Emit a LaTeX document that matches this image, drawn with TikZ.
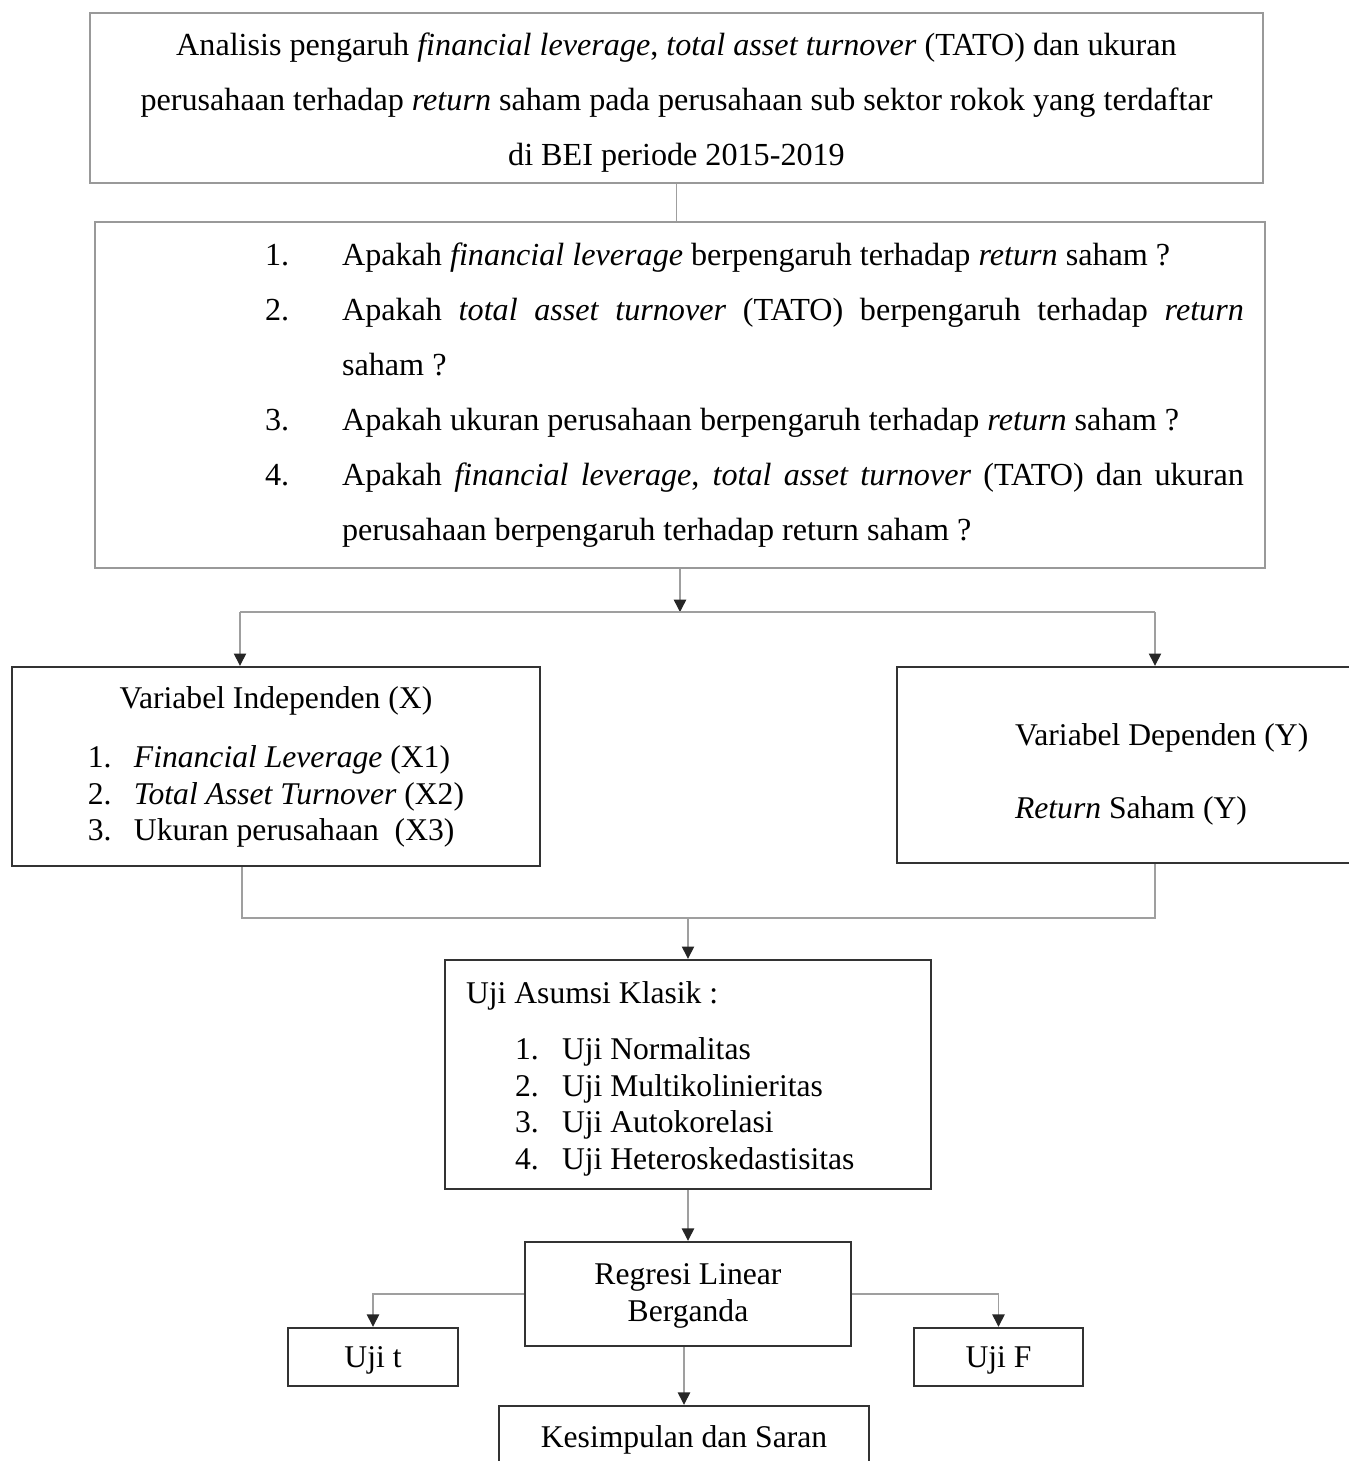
\documentclass[tikz,border=0pt]{standalone}
\usepackage{fontspec}
\setmainfont{Liberation Serif}
\usetikzlibrary{arrows.meta,positioning}

\newcommand{\qitem}[1]{\par\noindent\hangindent=1.54cm\hangafter=1\makebox[1.54cm][l]{#1}}
\newcommand{\lowered}[2]{\raisebox{-#1}[\height][\depth]{#2}}

\begin{document}
\begin{tikzpicture}[x=0.02cm, y=-0.02cm,
    lightbox/.style={rectangle, draw=gray!80, line width=0.9pt, inner sep=0pt},
    darkbox/.style={rectangle, draw=black!80, line width=1.4pt, inner sep=0pt},
    link/.style={draw=gray!75, line width=0.8pt},
    arr/.style={link, -{Triangle[width=7pt,length=7pt,color=black!85]}}]
    \clip (0,0) rectangle (1349,1461);

    \node [lightbox, minimum width=23.46cm, minimum height=3.4cm, font=\fontsize{18.3pt}{31.3pt}\selectfont] (title) at (676.5,98) {\lowered{0.1cm}{\parbox{23cm}{\centering Analisis pengaruh \emph{financial leverage}, \emph{total asset turnover} (TATO) dan ukuran\\ perusahaan terhadap \emph{return} saham pada perusahaan sub sektor rokok yang terdaftar\\ di BEI periode 2015-2019}}};
    \node [lightbox, minimum width=23.4cm, minimum height=6.92cm] (questions) at (680,395) {\hspace*{3.4cm}\parbox{19.58cm}{\fontsize{18.3pt}{31.3pt}\selectfont
        \qitem{1.}Apakah \emph{financial leverage} berpengaruh terhadap \emph{return} saham ?
        \qitem{2.}Apakah \emph{total asset turnover} (TATO) berpengaruh terhadap \emph{return}\linebreak saham ?
        \qitem{3.}Apakah ukuran perusahaan berpengaruh terhadap \emph{return} saham ?
        \qitem{4.}Apakah \emph{financial leverage}, \emph{total asset turnover} (TATO) dan ukuran\linebreak perusahaan berpengaruh terhadap return saham ?}\hspace*{0.42cm}};

    \node [darkbox, minimum width=10.56cm, minimum height=3.98cm, font=\fontsize{18pt}{20.8pt}\selectfont] (indep) at (276,766.5) {\lowered{0.05cm}{\parbox{10cm}{\centering Variabel Independen (X)\\[12.8pt]
        \begin{tabular}[t]{@{}p{0.92cm}@{}l@{}}
        1. & \emph{Financial Leverage} (X1)\\
        2. & \emph{Total Asset Turnover} (X2)\\
        3. & Ukuran perusahaan\ \ (X3)
        \end{tabular}}}};
    \node [darkbox, minimum width=10.68cm, minimum height=3.92cm, font=\fontsize{18pt}{41.5pt}\selectfont] (dep) at (1164,765) {\lowered{0.18cm}{\parbox{5.96cm}{\raggedright Variabel Dependen (Y)\\ \emph{Return} Saham (Y)}}};

    \node [darkbox, minimum width=9.72cm, minimum height=4.58cm, font=\fontsize{18pt}{20.8pt}\selectfont] (klasik) at (688,1074.5) {\lowered{0.09cm}{\parbox{8.88cm}{\raggedright Uji Asumsi Klasik :\\[11.1pt]
        \hspace*{0.98cm}\makebox[0.94cm][l]{1.}Uji Normalitas\\
        \hspace*{0.98cm}\makebox[0.94cm][l]{2.}Uji Multikolinieritas\\
        \hspace*{0.98cm}\makebox[0.94cm][l]{3.}Uji Autokorelasi\\
        \hspace*{0.98cm}\makebox[0.94cm][l]{4.}Uji Heteroskedastisitas}}};
    \node [darkbox, minimum width=6.52cm, minimum height=2.08cm, font=\fontsize{18pt}{21pt}\selectfont] (regresi) at (688,1294) {\lowered{0.04cm}{\parbox{6cm}{\centering Regresi Linear\\ Berganda}}};
    \node [darkbox, minimum width=3.4cm, minimum height=1.16cm, font=\fontsize{18pt}{21pt}\selectfont] (ujit) at (373,1357) {\lowered{0.06cm}{Uji t}};
    \node [darkbox, minimum width=3.38cm, minimum height=1.16cm, font=\fontsize{18pt}{21pt}\selectfont] (ujif) at (998.5,1357) {\lowered{0.06cm}{Uji F}};
    \node [darkbox, minimum width=7.4cm, minimum height=1.24cm, font=\fontsize{18pt}{21pt}\selectfont] (kesimpulan) at (684,1437) {\lowered{0.06cm}{Kesimpulan dan Saran}};

    % connectors
    \coordinate (split) at (680,612);
    \coordinate (splitL) at (240,612);
    \coordinate (splitR) at (1155,612);
    \coordinate (joinL) at (242,918);
    \coordinate (joinR) at (1155,918);
    \coordinate (join) at (688,918);

    \draw [link] (title.south) -- (title.south |- questions.north);
    \draw [arr] (questions.south) -- (split);
    \draw [link] (splitL) -- (splitR);
    \draw [arr] (splitL) -- (splitL |- indep.north);
    \draw [arr] (splitR) -- (splitR |- dep.north);
    \draw [link] (joinL |- indep.south) -- (joinL) -- (joinR) -- (joinR |- dep.south);
    \draw [arr] (join) -- (klasik.north);
    \draw [arr] (klasik) -- (regresi);
    \draw [arr] (regresi.west) -| (ujit.north);
    \draw [arr] (regresi.east) -| (ujif.north);
    \draw [arr] (regresi.south -| kesimpulan.north) -- (kesimpulan.north);
\end{tikzpicture}
\end{document}
